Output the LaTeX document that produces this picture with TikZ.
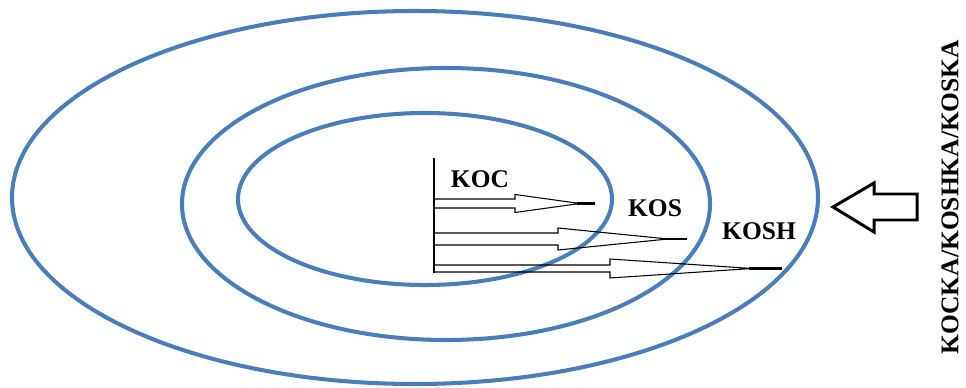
\documentclass[tikz,border=0pt]{standalone}
\usepackage{fontspec}
\setmainfont{Liberation Serif}
\definecolor{ringblue}{RGB}{74,126,187}
\begin{document}
\begin{tikzpicture}[x=0.02cm,y=-0.02cm,
  ring/.style={draw=ringblue,line width=2.3pt},
  flow/.style={draw=black,line width=0.6pt,line join=miter},
  lbl/.style={font=\fontsize{14.5}{17}\selectfont\bfseries,inner sep=0pt}]
\useasboundingbox (0,0) rectangle (966,388);
% three rings
\draw[ring] (415,197.5) ellipse [x radius=403,y radius=186.5];
\draw[ring] (446,204) ellipse [x radius=264,y radius=136];
\draw[ring] (425,199) ellipse [x radius=187,y radius=86];
% common base line and the three flows
\draw[flow,line width=0.8pt] (434,158) -- (434,273);
\foreach \y/\w/\hx/\hw/\tx/\ex in {203.5/4.5/515/9/580/595,239/6/558/11/668/687,268.5/3.5/610/9.5/752/782}{
  \draw[flow] (434,\y-\w) -- (\hx,\y-\w) -- (\hx,\y-\hw) -- (\tx,\y) -- (\hx,\y+\hw) -- (\hx,\y+\w) -- (434,\y+\w);
  \draw[line width=1.4pt] (\tx-3,\y) -- (\ex,\y);
}
\node[lbl] (koc) at (480,179) {KOC};
\node[lbl] (kos) at (655,208.5) {KOS};
\node[lbl] (kosh) at (759,231.5) {KOSH};
% input arrow and word forms
\draw[line width=1.7pt,line join=miter] (833,207) -- (874,183) -- (874,194) -- (917,194) -- (917,220) -- (874,220) -- (874,232) -- cycle;
\node[lbl,rotate=90] (forms) at (950,197) {KOCKA/KOSHKA/KOSKA};
\end{tikzpicture}
\end{document}
